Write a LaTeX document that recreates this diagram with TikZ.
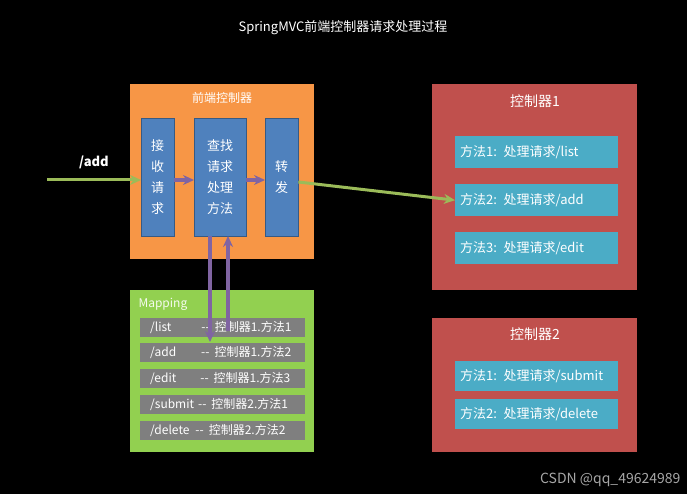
\documentclass[tikz,border=0pt]{standalone}
\usepackage{fontspec}
\setmainfont{Noto Sans CJK SC}
\usetikzlibrary{arrows.meta}
\definecolor{fcorange}{HTML}{F79646}
\definecolor{stepblue}{HTML}{4F81BD}
\definecolor{ctrlred}{HTML}{C0504D}
\definecolor{methcyan}{HTML}{4BACC6}
\definecolor{mapgreen}{HTML}{92D050}
\definecolor{rowgray}{HTML}{7F7F7F}
\definecolor{flowgreen}{HTML}{9BBB59}
\definecolor{flowpurple}{HTML}{8064A2}
\begin{document}
\begin{tikzpicture}[x=1pt, y=-1pt, font=\fontsize{13}{15}\selectfont, text=white]
		\tikzstyle{panel} = [rectangle, anchor=north west, inner sep=0pt]
		\tikzstyle{stage} = [rectangle, anchor=north west, inner sep=0pt, fill=stepblue, draw=stepblue!70!black, align=center, font=\fontsize{13}{21}\selectfont]
		\tikzstyle{method} = [rectangle, anchor=north west, inner sep=0pt, fill=methcyan, minimum width=163pt, text width=153pt, align=left]
		\tikzstyle{row} = [rectangle, anchor=north west, inner sep=0pt, fill=rowgray, minimum width=165pt, minimum height=19pt]
		\tikzstyle{rowtext} = [anchor=west, inner sep=0pt, font=\fontsize{12}{14}\selectfont]
		\tikzstyle{gflow} = [-{Stealth[length=11pt,width=10pt]}, flowgreen, line width=3pt]
		\tikzstyle{pflow} = [-{Stealth[length=11pt,width=10pt]}, flowpurple, line width=3.4pt]
		
		% Background
		\fill[black] (0,0) rectangle (687,494);
		\node (title) at (343,28) {SpringMVC前端控制器请求处理过程};
		
		% Front controller
		\node (front) [panel, fill=fcorange, minimum width=184pt, minimum height=175pt] at (130,84) {};
		\node (fronttitle) at (222,98) {\fontsize{12}{14}\selectfont 前端控制器};
		\node (recv) [stage, minimum width=33pt, minimum height=118pt] at (141,118) {接\\收\\请\\求};
		\node (find) [stage, minimum width=52pt, minimum height=118pt] at (194,118) {查找\\请求\\处理\\方法};
		\node (fwd) [stage, minimum width=33pt, minimum height=118pt] at (265,118) {转\\发};
		
		% Mapping
		\node (mapping) [panel, fill=mapgreen, minimum width=184pt, minimum height=162pt] at (130,290) {};
		\node (maptitle) [anchor=west, text=white!90!mapgreen] at (135,304) {\fontsize{12}{14}\selectfont Mapping};
		\node (r1) [row] at (140,318) {};
		\node (r2) [row] at (140,343) {};
		\node (r3) [row] at (140,369) {};
		\node (r4) [row] at (140,395) {};
		\node (r5) [row] at (140,421) {};
		\node[rowtext] at ([xshift=10pt]r1.west) {/list\hspace{30pt}{-}{-}\hspace{5pt}控制器1.方法1};
		\node[rowtext] at ([xshift=10pt]r2.west) {/add\hspace{25pt}{-}{-}\hspace{5pt}控制器1.方法2};
		\node[rowtext] at ([xshift=10pt]r3.west) {/edit\hspace{24pt}{-}{-}\hspace{5pt}控制器1.方法3};
		\node[rowtext] at ([xshift=10pt]r4.west) {/submit\hspace{4pt}{-}{-}\hspace{5pt}控制器2.方法1};
		\node[rowtext] at ([xshift=10pt]r5.west) {/delete\hspace{6pt}{-}{-}\hspace{5pt}控制器2.方法2};
		
		% Controller 1
		\node (ctrl1) [panel, fill=ctrlred, minimum width=205pt, minimum height=206pt] at (432,84) {};
		\node (ctrl1title) at (535,101) {\fontsize{14}{16}\selectfont 控制器1};
		\node (m11) [method, minimum height=32pt] at (455,136) {方法1: 处理请求/list};
		\node (m12) [method, minimum height=32pt] at (455,184) {方法2: 处理请求/add};
		\node (m13) [method, minimum height=32pt] at (455,232) {方法3: 处理请求/edit};
		
		% Controller 2
		\node (ctrl2) [panel, fill=ctrlred, minimum width=205pt, minimum height=134pt] at (432,318) {};
		\node (ctrl2title) at (535,334) {\fontsize{14}{16}\selectfont 控制器2};
		\node (m21) [method, minimum height=30pt] at (455,361) {方法1: 处理请求/submit};
		\node (m22) [method, minimum height=30pt] at (455,399) {方法2: 处理请求/delete};
		
		% Arrows
		\coordinate (in) at (47,180);
		\draw [gflow] (in) -- (recv.west |- in) node[midway, above=6pt, text=white, font=\fontsize{13}{15}\selectfont\bfseries] {/add};
		\draw [pflow] (recv.east |- in) -- (find.west |- in);
		\draw [pflow] (find.east |- in) -- (fwd.west |- in);
		\draw [gflow] (fwd.east |- 0,182) -- (m12.west);
		\draw [pflow] (210,236) -- (210,342);
		\draw [pflow] (228,331) -- (228,236);
		
		\node (mark) [anchor=south east, text=gray!70] at (684,490) {\fontsize{14}{16}\selectfont CSDN @qq\_49624989};
\end{tikzpicture}
\end{document}
